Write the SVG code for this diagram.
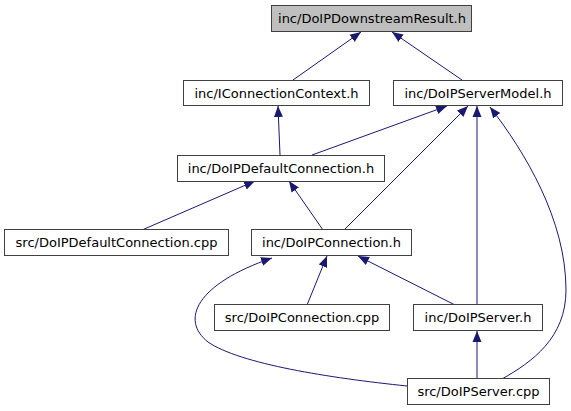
<svg xmlns="http://www.w3.org/2000/svg" width="571" height="411" viewBox="0 0 571 411">
<style>
.n rect{fill:#ffffff;stroke:#404040;stroke-width:1}
.n text{font-family:"DejaVu Sans",sans-serif;font-size:13px;fill:#000000;text-anchor:middle}
.e path{fill:none;stroke:#191970;stroke-width:1;marker-end:url(#ah)}
</style>
<defs>
<marker id="ah" markerUnits="userSpaceOnUse" markerWidth="12" markerHeight="10" refX="11" refY="5" orient="auto">
<path d="M0,0.5 L11,5 L0,9.5 z" fill="#191970" stroke="none"/>
</marker>
</defs>
<rect width="571" height="411" fill="#ffffff"/>
<g id="edges" class="e">
<path d="M293,80 L361,32"/>
<path d="M462,80 L392,32"/>
<path d="M280,155 L278,106"/>
<path d="M312,155 L447,106"/>
<path d="M344,230 L468,106"/>
<path d="M477,305 L477,106"/>
<path d="M502,379 C532,362 566,338 566,290 C566,220 525,152 490,107"/>
<path d="M142,230 L255,181"/>
<path d="M323,230 L289,181"/>
<path d="M307,305 L327,256"/>
<path d="M455,305 L358,256"/>
<path d="M407,386 C330,378 240,364 208,342 C180,320 196,284 272,258"/>
<path d="M477,379 L477,331"/>
</g>
<g id="root" class="n"><rect x="271.5" y="5.5" width="200" height="26" style="fill:#bfbfbf"/><text x="372" y="22.5">inc/DoIPDownstreamResult.h</text></g>
<g id="iconnctx" class="n"><rect x="183.5" y="80.5" width="186" height="25"/><text x="276.5" y="97.5">inc/IConnectionContext.h</text></g>
<g id="servermodel" class="n"><rect x="393.5" y="80.5" width="169" height="25"/><text x="478" y="97.5">inc/DoIPServerModel.h</text></g>
<g id="defconn_h" class="n"><rect x="177.5" y="155.5" width="207" height="26"/><text x="281" y="172.5">inc/DoIPDefaultConnection.h</text></g>
<g id="defconn_cpp" class="n"><rect x="4.5" y="229.5" width="224" height="26"/><text x="116.5" y="246.5">src/DoIPDefaultConnection.cpp</text></g>
<g id="conn_h" class="n"><rect x="251.5" y="229.5" width="160" height="26"/><text x="331.5" y="246.5">inc/DoIPConnection.h</text></g>
<g id="conn_cpp" class="n"><rect x="214.5" y="304.5" width="175" height="26"/><text x="302" y="321.5">src/DoIPConnection.cpp</text></g>
<g id="server_h" class="n"><rect x="413.5" y="304.5" width="129" height="26"/><text x="478" y="321.5">inc/DoIPServer.h</text></g>
<g id="server_cpp" class="n"><rect x="407.5" y="378.5" width="142" height="26"/><text x="478.5" y="395.5">src/DoIPServer.cpp</text></g>
</svg>
